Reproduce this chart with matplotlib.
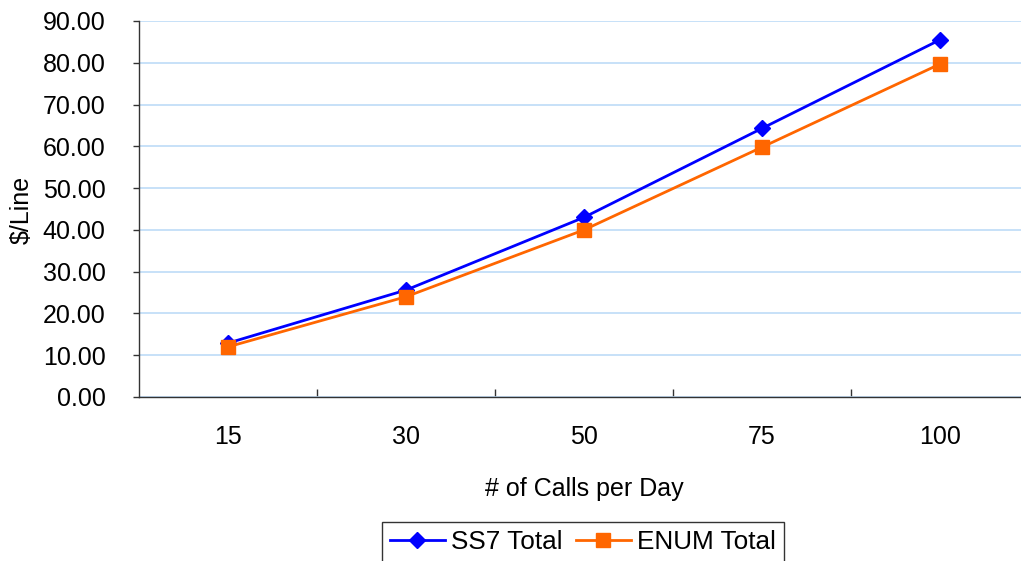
import matplotlib
matplotlib.use("Agg")
import matplotlib.pyplot as plt
import numpy as np

categories = ["15", "30", "50", "75", "100"]
ss7_total = [12.9, 25.6, 43.0, 64.3, 85.5]
enum_total = [12.0, 24.0, 40.0, 59.8, 79.7]

plt.rcParams['font.family'] = ['Liberation Sans', 'DejaVu Sans']

W, H = 1021, 561
fig = plt.figure(figsize=(W / 100, H / 100), dpi=100)
left, right, top, bottom = 139, 1029, 21, 397
ax = fig.add_axes([left / W, (H - bottom) / H, (right - left) / W, (bottom - top) / H])

x = np.arange(len(categories))
ax.plot(x, ss7_total, color="#0000FF", lw=2.0, marker="D", markersize=8.5, label="SS7 Total", zorder=3)
ax.plot(x, enum_total, color="#FF6600", lw=2.0, marker="s", markersize=9.5, label="ENUM Total", zorder=3)

ax.set_xlim(-0.5, len(categories) - 0.5)
ax.set_ylim(0, 90)
ax.set_yticks(np.arange(0, 91, 10))
ax.set_yticklabels([f"{v:.2f}" for v in np.arange(0, 91, 10)])
ax.set_xticks(x)
ax.set_xticklabels(categories)
ax.set_xticks(np.arange(0.5, len(categories) - 0.5, 1), minor=True)

ax.yaxis.grid(True, color="#BDDCF7", lw=1.2)
ax.set_axisbelow(True)
for s in ["top", "right"]:
    ax.spines[s].set_visible(False)
for s in ["left", "bottom"]:
    ax.spines[s].set_color("#333333")
    ax.spines[s].set_linewidth(1.0)

fs = 18
ax.tick_params(axis="y", direction="out", length=4, width=1, color="#333333", pad=20, labelsize=fs)
ax.tick_params(axis="x", which="major", length=0, pad=20, labelsize=fs)
ax.tick_params(axis="x", which="minor", direction="in", length=6, width=1, color="#333333")

ax.set_xlabel("# of Calls per Day", fontsize=fs)
ax.xaxis.set_label_coords((584 - left) / (right - left), -(477 - bottom) / (bottom - top))
ax.set_ylabel("$/Line", fontsize=fs)
ax.yaxis.set_label_coords(-(139 - 34) / (right - left), (bottom - 210) / (bottom - top))

leg = fig.legend(loc="upper left", bbox_to_anchor=(382 / W, 1 - 522 / H), ncol=2, frameon=True,
                 fancybox=False, edgecolor="black", fontsize=18.8, handlelength=2.1,
                 handletextpad=0.25, columnspacing=0.5, borderpad=0.3, borderaxespad=0)
leg.get_frame().set_linewidth(1.0)

fig.savefig("out.png", dpi=100)
